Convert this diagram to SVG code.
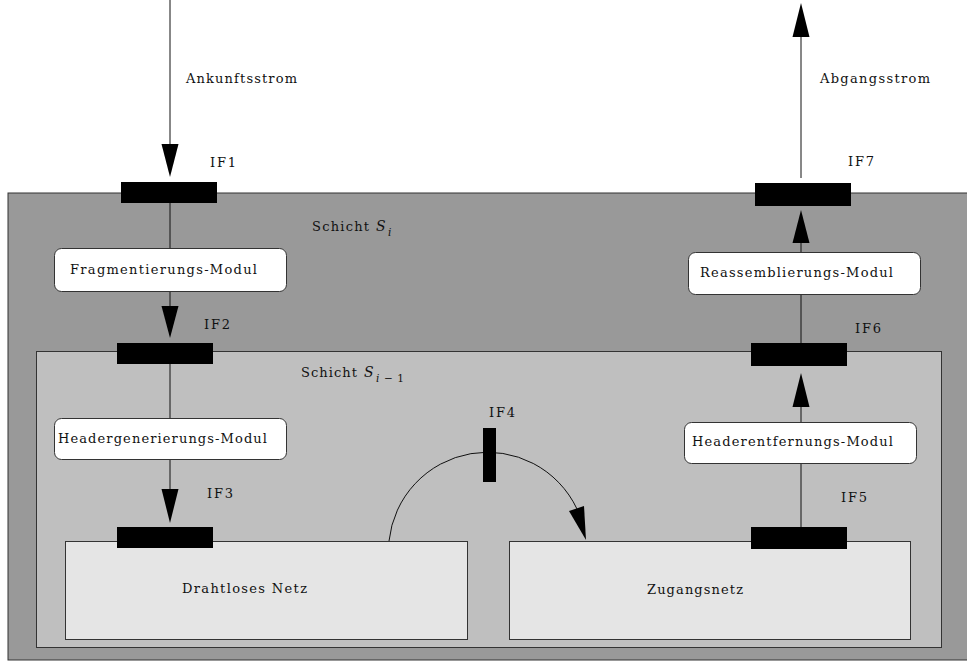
<svg xmlns="http://www.w3.org/2000/svg" width="967" height="663" viewBox="0 0 967 663">
<style>
.t{font-family:"DejaVu Serif","Liberation Serif",serif;font-size:13px;fill:#111}
.m{font-family:"DejaVu Serif","Liberation Serif",serif;font-style:italic;fill:#111}
.bar{fill:#000}
.mod{fill:#fff;stroke:#333;stroke-width:1}
.ln{stroke:#111;stroke-width:1;fill:none}
.head{fill:#000}
</style>
<rect width="967" height="663" fill="#fff"/>
<g id="layer-si">
<rect x="8" y="193" width="960" height="467" fill="#999999" stroke="#333" stroke-width="1"/>
<text class="t" x="312" y="231" textLength="57" lengthAdjust="spacing">Schicht</text>
<text class="m" x="376" y="231" font-size="14">S</text>
<text class="m" x="388" y="236" font-size="10.5">i</text>
</g>
<g id="layer-si1">
<rect x="36.5" y="351.5" width="905" height="296" fill="#bfbfbf" stroke="#333" stroke-width="1"/>
<text class="t" x="301" y="377" textLength="56" lengthAdjust="spacing">Schicht</text>
<text class="m" x="364" y="377" font-size="14">S</text>
<text class="m" x="376" y="382" font-size="10.5" textLength="28" lengthAdjust="spacing">i<tspan font-style="normal">−1</tspan></text>
</g>
<g id="drahtlos">
<rect x="65.5" y="541.5" width="402" height="98" fill="#e5e5e5" stroke="#333" stroke-width="1"/>
<text class="t" x="182" y="593" textLength="125" lengthAdjust="spacing">Drahtloses Netz</text>
</g>
<g id="zugang">
<rect x="509.5" y="541.5" width="401" height="98" fill="#e5e5e5" stroke="#333" stroke-width="1"/>
<text class="t" x="647" y="594" textLength="96" lengthAdjust="spacing">Zugangsnetz</text>
</g>
<g id="connectors">
<line class="ln" x1="170" y1="0" x2="170" y2="146"/>
<polygon class="head" points="161.5,144 178.5,144 170,177"/>
<line class="ln" x1="170" y1="203" x2="170" y2="248"/>
<line class="ln" x1="170" y1="292" x2="170" y2="308"/>
<polygon class="head" points="161.5,306 178.5,306 170,338"/>
<line class="ln" x1="170" y1="364" x2="170" y2="418"/>
<line class="ln" x1="170" y1="460" x2="170" y2="491"/>
<polygon class="head" points="161.5,489 178.5,489 170,523"/>
<path class="ln" d="M389,541 A99,99 0 0 1 577,509"/>
<polygon class="head" points="569,511 584,506 586,540"/>
<line class="ln" x1="801" y1="527" x2="801" y2="463"/>
<line class="ln" x1="801" y1="422" x2="801" y2="405"/>
<polygon class="head" points="792.5,407 809.5,407 801,373"/>
<line class="ln" x1="801" y1="343" x2="801" y2="294"/>
<line class="ln" x1="801" y1="253" x2="801" y2="241"/>
<polygon class="head" points="792.5,243 809.5,243 801,210"/>
<line class="ln" x1="801" y1="178" x2="801" y2="35"/>
<polygon class="head" points="792.5,37 809.5,37 801,3"/>
</g>
<g id="labels">
<text class="t" x="186" y="83" textLength="111" lengthAdjust="spacing">Ankunftsstrom</text>
<text class="t" x="820" y="83" textLength="110" lengthAdjust="spacing">Abgangsstrom</text>
</g>
<g id="if1"><rect class="bar" x="121" y="182" width="96" height="21"/><text class="t" x="210" y="167" textLength="26" lengthAdjust="spacing">IF1</text></g>
<g id="if2"><rect class="bar" x="117" y="343" width="96" height="21"/><text class="t" x="204" y="329" textLength="26" lengthAdjust="spacing">IF2</text></g>
<g id="if3"><rect class="bar" x="117" y="527" width="96" height="21"/><text class="t" x="207" y="498" textLength="26" lengthAdjust="spacing">IF3</text></g>
<g id="if4"><rect class="bar" x="483" y="428" width="13" height="54"/><text class="t" x="489" y="417" textLength="26" lengthAdjust="spacing">IF4</text></g>
<g id="if5"><rect class="bar" x="751" y="527" width="96" height="22"/><text class="t" x="841" y="502" textLength="26" lengthAdjust="spacing">IF5</text></g>
<g id="if6"><rect class="bar" x="751" y="343" width="96" height="23"/><text class="t" x="855" y="333" textLength="26" lengthAdjust="spacing">IF6</text></g>
<g id="if7"><rect class="bar" x="755" y="183" width="96" height="23"/><text class="t" x="848" y="166" textLength="26" lengthAdjust="spacing">IF7</text></g>
<g id="fragmentierung"><rect class="mod" x="54.5" y="248.5" width="232" height="43" rx="7"/><text class="t" x="70" y="274" textLength="187" lengthAdjust="spacing">Fragmentierungs-Modul</text></g>
<g id="headergen"><rect class="mod" x="54.5" y="418.5" width="232" height="41" rx="7"/><text class="t" x="58" y="443" textLength="209" lengthAdjust="spacing">Headergenerierungs-Modul</text></g>
<g id="headerentf"><rect class="mod" x="684.5" y="422.5" width="232" height="41" rx="7"/><text class="t" x="692" y="446" textLength="201" lengthAdjust="spacing">Headerentfernungs-Modul</text></g>
<g id="reassemblierung"><rect class="mod" x="688.5" y="252.5" width="232" height="42" rx="7"/><text class="t" x="700" y="277" textLength="193" lengthAdjust="spacing">Reassemblierungs-Modul</text></g>
</svg>
